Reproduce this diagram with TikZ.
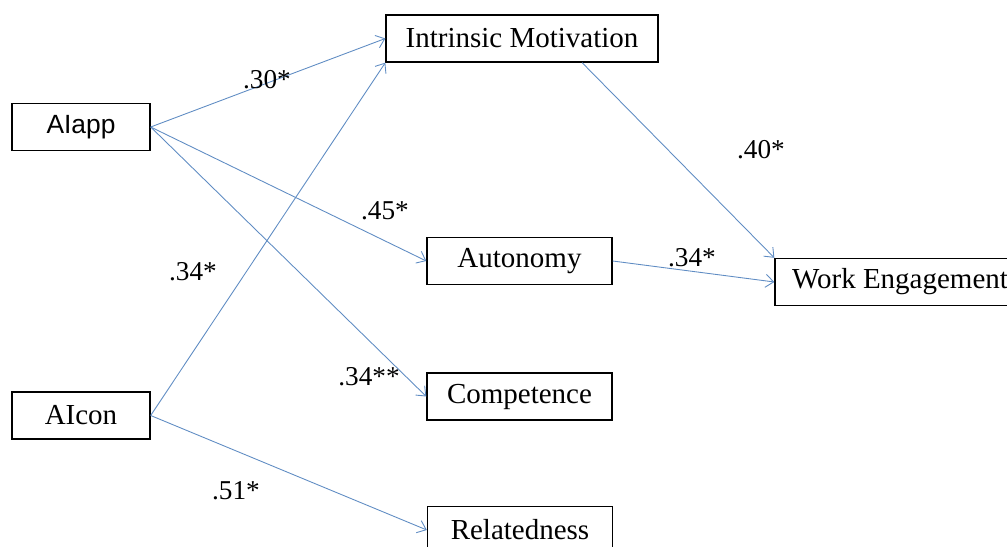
\documentclass[tikz,border=0pt]{standalone}
\usepackage{fontspec}
\setmainfont{Liberation Serif}
\newfontfamily\arialfont{Liberation Sans}
\definecolor{pathblue}{RGB}{95,140,195}
\usetikzlibrary{arrows.meta,calc}

\begin{document}
\begin{tikzpicture}[
  x=0.02cm,y=-0.02cm,
  box/.style={draw,line width=0.8pt,minimum height=0.94cm,inner sep=0pt,
    font=\fontsize{16.5}{19}\selectfont},
  coef/.style={font=\fontsize{15.5}{18}\selectfont,inner sep=0pt},
  arr/.style={-{Straight Barb[length=1.6mm,width=2.6mm]},line width=0.5pt,pathblue}
]
  \useasboundingbox (0,0) rectangle (1007,547);
  \node[box,minimum width=2.76cm,font=\fontsize{15}{18}\arialfont] (app) at (81,127) {AIapp};
  \node[box,minimum width=2.76cm] (con) at (81,415.5) {AIcon};
  \node[box,minimum width=5.44cm] (im) at (522,38.5) {Intrinsic Motivation};
  \node[box,minimum width=3.7cm] (aut) at (519.5,261) {Autonomy};
  \node[box,minimum width=3.7cm] (comp) at (519.5,396.5) {Competence};
  \node[box,minimum width=3.7cm] (rel) at (520,530) {Relatedness};
  \node[box,minimum width=5.0cm] (we) at (900,282) {Work Engagement};
  % Arrows
  \draw[arr] (app.east) -- (im.west);
  \draw[arr] (app.east) -- (aut.west);
  \draw[arr] (app.east) -- (comp.west);
  \draw[arr] (con.east) -- (im.south west);
  \draw[arr] (con.east) -- (rel.west);
  \draw[arr] ($(im.south west)!0.72!(im.south east)$) -- (we.north west);
  \draw[arr] (aut.east) -- (we.west);
  % Coefficients
  \node[coef] (c1) at (267,80) {.30*};
  \node[coef] (c2) at (385,211) {.45*};
  \node[coef] (c3) at (193,272) {.34*};
  \node[coef] (c4) at (369,377) {.34**};
  \node[coef] (c5) at (236,491) {.51*};
  \node[coef] (c6) at (761,150) {.40*};
  \node[coef] (c7) at (692,258) {.34*};
\end{tikzpicture}
\end{document}
